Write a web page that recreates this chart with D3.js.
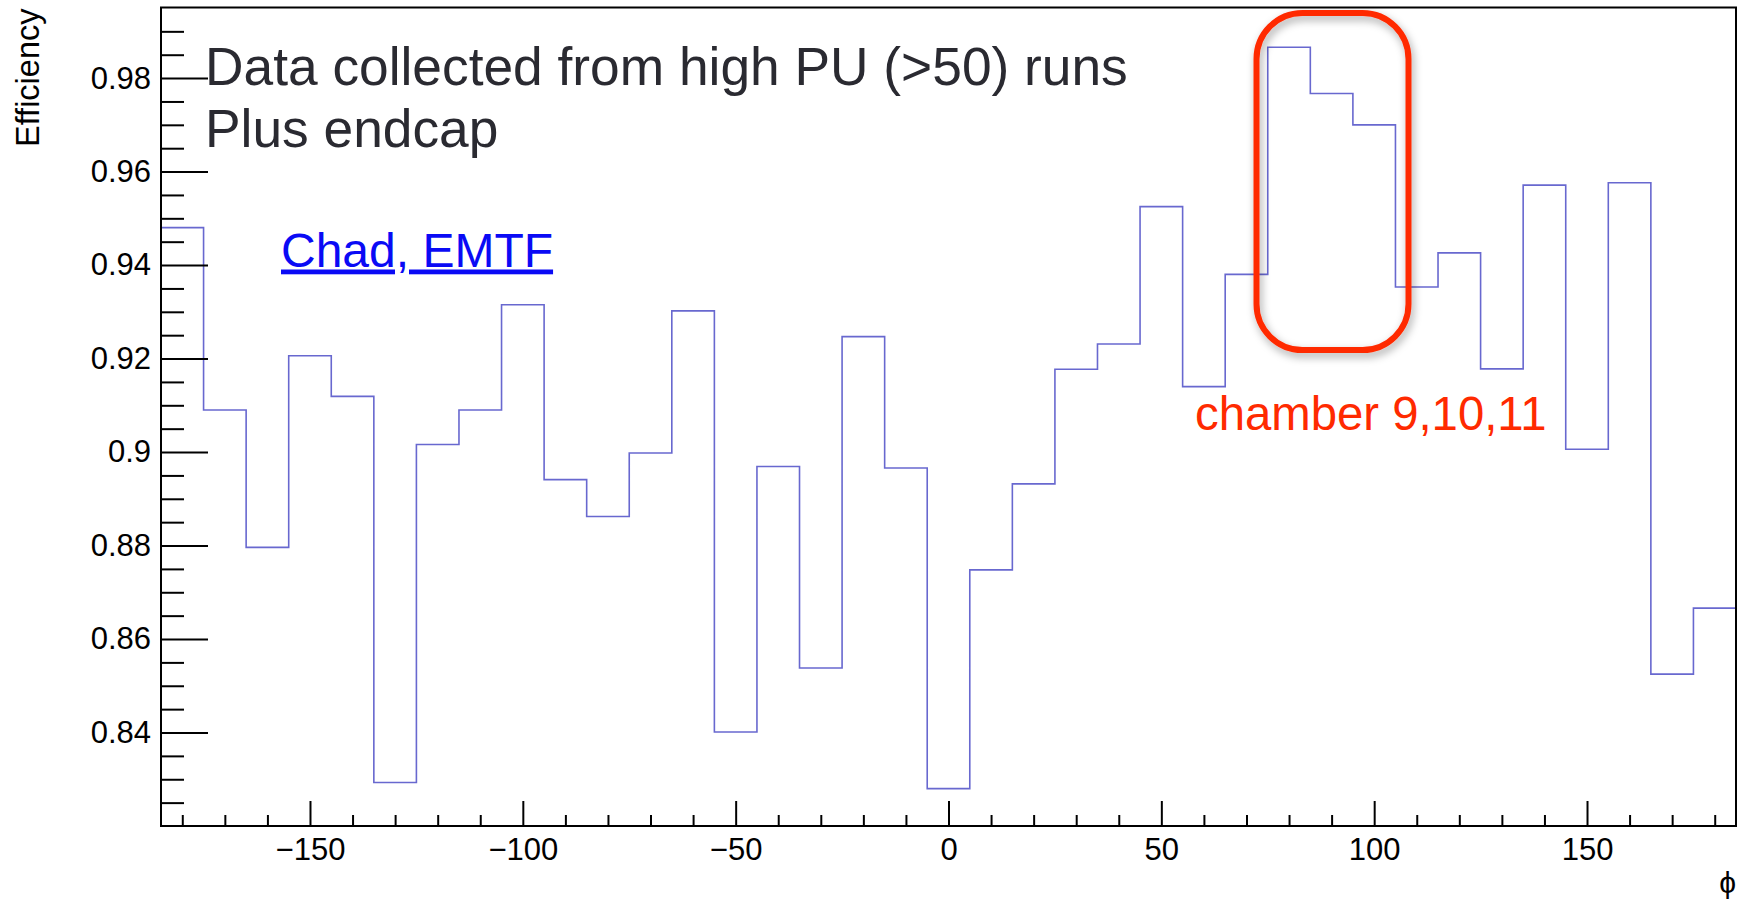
<!DOCTYPE html>
<html>
<head>
<meta charset="utf-8">
<script src="https://cdn.jsdelivr.net/npm/d3@7"></script>
<style>
  body { margin: 0; background: white; }
  text { font-family: "Liberation Sans", Arial, Helvetica, sans-serif; }
</style>
</head>
<body>
<div id="visualization"></div>
<script>
let w = 1747;
let h = 899;

// bin lower edges (phi, 10 deg bins) and efficiency per bin
let binEdges = [-185, -175, -165, -155, -145, -135, -125, -115, -105, -95, -85, -75, -65, -55, -45, -35, -25, -15, -5,
  5, 15, 25, 35, 45, 55, 65, 75, 85, 95, 105, 115, 125, 135, 145, 155, 165, 175, 185];
let efficiency = [0.948, 0.909, 0.8796, 0.9206, 0.9119, 0.8293, 0.9016, 0.909, 0.9315, 0.8941, 0.8862, 0.8998,
  0.9302, 0.8401, 0.8969, 0.8538, 0.9247, 0.8966, 0.828, 0.8748, 0.8932, 0.9177, 0.9231, 0.9525, 0.914,
  0.938, 0.9866, 0.9767, 0.970, 0.9353, 0.9426, 0.9178, 0.9571, 0.9006, 0.9576, 0.8525, 0.8666];

// axis ticks
let xMajorTicks = [-150, -100, -50, 0, 50, 100, 150];
let xMinorTicks = [-180, -170, -160, -140, -130, -120, -110, -90, -80, -70, -60, -40, -30, -20, -10,
  10, 20, 30, 40, 60, 70, 80, 90, 110, 120, 130, 140, 160, 170, 180];
let yMajorTicks = [0.84, 0.86, 0.88, 0.9, 0.92, 0.94, 0.96, 0.98];
let yMinorTicks = [0.825, 0.83, 0.835, 0.845, 0.85, 0.855, 0.865, 0.87, 0.875, 0.885, 0.89, 0.895,
  0.905, 0.91, 0.915, 0.925, 0.93, 0.935, 0.945, 0.95, 0.955, 0.965, 0.97, 0.975, 0.985, 0.99];

let frame = {left: 161, right: 1736, top: 7.5, bottom: 826};

let viz = d3.select("#visualization")
  .append("svg")
  .attr("width", w)
  .attr("height", h)
  .style("background-color", "white")
;

let xScale = d3.scaleLinear().domain([-185, 185]).range([frame.left, frame.right]);
let yScale = d3.scaleLinear().domain([0.82, 0.9951]).range([frame.bottom, frame.top]);

// histogram outline
let steps = efficiency.map((v, i) => [binEdges[i], v]);
steps.push([binEdges[binEdges.length - 1], efficiency[efficiency.length - 1]]);

let line = d3.line()
  .x(d => xScale(d[0]))
  .y(d => yScale(d[1]))
  .curve(d3.curveStepAfter);

viz.append("path")
  .datum(steps)
  .attr("d", line)
  .attr("fill", "none")
  .attr("stroke", "#6868cf")
  .attr("stroke-width", 1.6)
;

// y axis: major ticks go inward, labels outside
let yAxisGroup = viz.append("g").attr("transform", "translate(" + frame.left + ",0)");
yAxisGroup.call(d3.axisLeft(yScale).tickValues(yMajorTicks).tickSizeInner(-47).tickSizeOuter(0)
  .tickPadding(10).tickFormat(d3.format("~g")));
yAxisGroup.append("g").call(d3.axisLeft(yScale).tickValues(yMinorTicks).tickSizeInner(-23).tickSizeOuter(0)
  .tickFormat(""));

// x axis
let xAxisGroup = viz.append("g").attr("transform", "translate(0," + frame.bottom + ")");
xAxisGroup.call(d3.axisBottom(xScale).tickValues(xMajorTicks).tickSizeInner(-25).tickSizeOuter(0)
  .tickPadding(12));
xAxisGroup.append("g").call(d3.axisBottom(xScale).tickValues(xMinorTicks).tickSizeInner(-11).tickSizeOuter(0)
  .tickFormat(""));

viz.selectAll(".domain").remove();
viz.selectAll(".tick line").attr("stroke", "black").attr("stroke-width", 2);
viz.selectAll(".tick text").attr("fill", "black").style("font-size", "31px");

// frame
viz.append("rect")
  .attr("x", frame.left)
  .attr("y", frame.top)
  .attr("width", frame.right - frame.left)
  .attr("height", frame.bottom - frame.top)
  .attr("fill", "none")
  .attr("stroke", "black")
  .attr("stroke-width", 2)
;

// axis titles
viz.append("text")
  .attr("transform", "translate(39," + (frame.top + 1) + ") rotate(-90)")
  .attr("text-anchor", "end")
  .style("font-size", "32.5px")
  .text("Efficiency");

viz.append("text")
  .attr("x", frame.right)
  .attr("y", 893)
  .attr("text-anchor", "end")
  .style("font-size", "30px")
  .text("\u03d5");

// annotations from the slide
viz.append("text")
  .attr("x", 205).attr("y", 85)
  .attr("fill", "#2a2a31")
  .style("font-size", "53.3px")
  .text("Data collected from high PU (>50) runs");
viz.append("text")
  .attr("x", 205).attr("y", 146.5)
  .attr("fill", "#2a2a31")
  .style("font-size", "53.3px")
  .text("Plus endcap");

viz.append("text")
  .attr("x", 281).attr("y", 266.5)
  .attr("fill", "#0a0af5")
  .style("font-size", "48px")
  .style("text-decoration", "underline")
  .text("Chad, EMTF");

viz.append("text")
  .attr("x", 1195).attr("y", 430)
  .attr("fill", "#ff2a00")
  .style("font-size", "47.3px")
  .text("chamber 9,10,11");

// highlight box with soft shadow
let defs = viz.append("defs");
defs.append("filter").attr("id", "shadow")
  .attr("x", "-20%").attr("y", "-20%").attr("width", "140%").attr("height", "140%")
  .append("feDropShadow")
  .attr("dx", 2).attr("dy", 4).attr("stdDeviation", 4)
  .attr("flood-color", "#000").attr("flood-opacity", 0.35);

viz.append("rect")
  .attr("x", 1256.5).attr("y", 13)
  .attr("width", 152).attr("height", 337)
  .attr("rx", 46).attr("ry", 46)
  .attr("fill", "none")
  .attr("stroke", "#ff2a00")
  .attr("stroke-width", 6)
  .attr("filter", "url(#shadow)")
;
</script>
</body>
</html>
